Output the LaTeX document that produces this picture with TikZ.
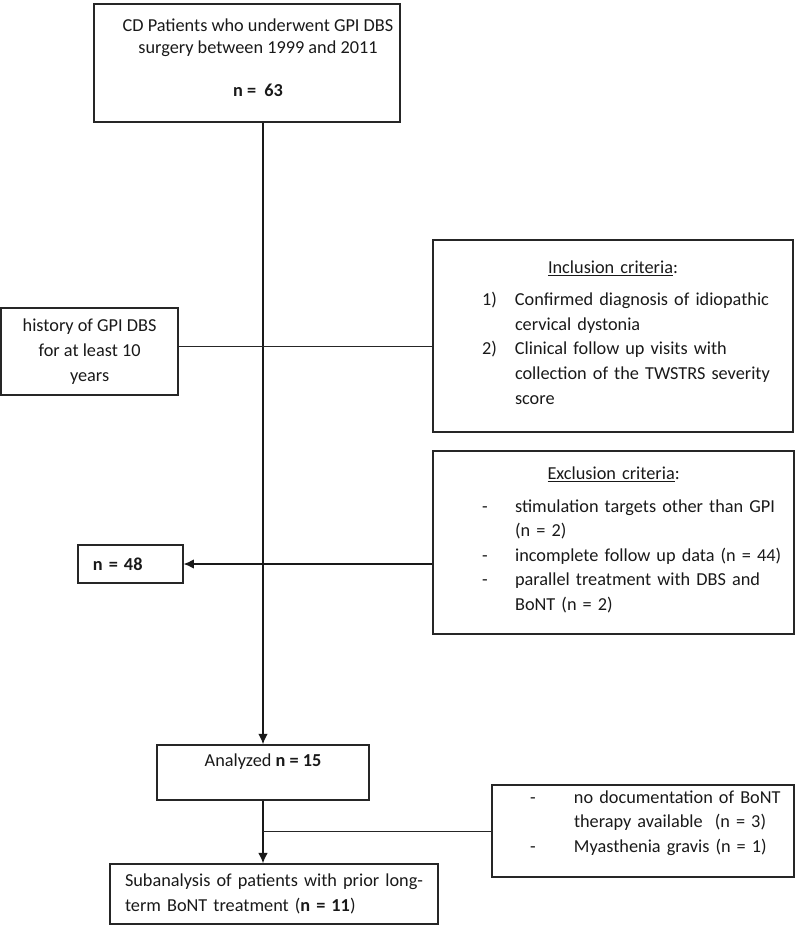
\documentclass[tikz,border=0pt]{standalone}
\usepackage{fontspec}
\setmainfont{Carlito}
\usetikzlibrary{positioning, arrows.meta}

\begin{document}
\begin{tikzpicture}[
        % Testo Calibri-like, 13pt
        every node/.style={font=\fontsize{13}{17.5}\selectfont, text=black!90},
        % Stile box: bordo grigio scuro, nessun riempimento
        box/.style={draw=black!85, line width=0.9pt, inner sep=0pt, align=center},
        % Frecce piene
        arrow/.style={-{Latex[length=2.6mm, width=2.4mm]}, line width=1.1pt, draw=black!90},
        % Linee sottili senza punta
        link/.style={line width=0.6pt, draw=black!85}
    ]
    \useasboundingbox (0,0) rectangle (20,-23.35);

    % --- Start: all patients ---
    \node[box, minimum width=7.65cm, minimum height=2.95cm] (patients) at (6.175,-1.575) {};
    \node[align=center, font=\fontsize{13}{15.6}\selectfont] (patientstext) at (6.45,-1.45) {CD Patients who underwent GPI DBS\\surgery between 1999 and 2011\\[0.53cm]\textbf{n = \ 63}};

    % --- Criteria ---
    \node[box, minimum width=4.425cm, minimum height=2.175cm] (history) at (2.24,-8.79) {history of GPI DBS\\for at least 10\\years};
    \node[box, minimum width=9cm, minimum height=4.8cm, text width=9cm, align=left] (inclusion) at (15.325,-8.4) {%
        \makebox[9cm]{\underline{Inclusion criteria}:}\\[0.2cm]
        \hspace*{1.225cm}\begin{tabular}[t]{@{}p{0.825cm}@{}l@{}}
            1) & Confirmed diagnosis of idiopathic\\
               & cervical dystonia\\
            2) & Clinical follow up visits with\\
               & collection of the TWSTRS severity\\
               & score
        \end{tabular}};
    \node[box, minimum width=9.025cm, minimum height=4.575cm, text width=9.025cm, align=left] (exclusion) at (15.34,-13.56) {%
        \makebox[9.025cm]{\underline{Exclusion criteria}:}\\[0.2cm]
        \hspace*{1.225cm}\begin{tabular}[t]{@{}p{0.825cm}@{}l@{}}
            - & stimulation targets other than GPI\\
              & (n = 2)\\
            - & incomplete follow up data (n = 44)\\
            - & parallel treatment with DBS and\\
              & BoNT (n = 2)
        \end{tabular}};
    \node[box, minimum height=0.95cm, text width=1.875cm, inner xsep=0.375cm, align=left] (remaining) at (3.26,-14.1) {\textbf{n = 48}};

    % --- Analysis ---
    \node[box, minimum width=5.3cm, minimum height=1.375cm] (analyzed) at (6.575,-19.31) {Analyzed \textbf{n = 15}\\\mbox{}};
    \node[box, minimum width=7.55cm, minimum height=2.3cm, text width=7.55cm, align=left] (bontexcl) at (16.075,-20.775) {%
        \hspace*{0.95cm}\begin{tabular}[t]{@{}p{1.1cm}@{}l@{}}
            - & no documentation of BoNT\\
              & therapy available\ \ (n = 3)\\
            - & Myasthenia gravis (n = 1)\\[-0.2cm]
              & \mbox{}
        \end{tabular}};
    \node[box, minimum height=1.5cm, text width=8.2cm, align=left] (subanalysis) at (6.85,-22.35) {%
        \hspace*{0.375cm}Subanalysis of patients with prior long-\\
        \hspace*{0.375cm}term BoNT treatment (\textbf{n = 11})};

    % --- Connections ---
    \coordinate (crit) at (0,-8.65);
    \draw[arrow] (analyzed.north |- patients.south) -- (analyzed.north);
    \draw[link] (history.east |- crit) -- (inclusion.west |- crit);
    \draw[arrow] (exclusion.west |- remaining.east) -- (remaining.east);
    \draw[arrow] (analyzed.south) -- (analyzed.south |- subanalysis.north);
    \draw[link] (bontexcl.west) -- (bontexcl.west -| analyzed.south);

\end{tikzpicture}
\end{document}
